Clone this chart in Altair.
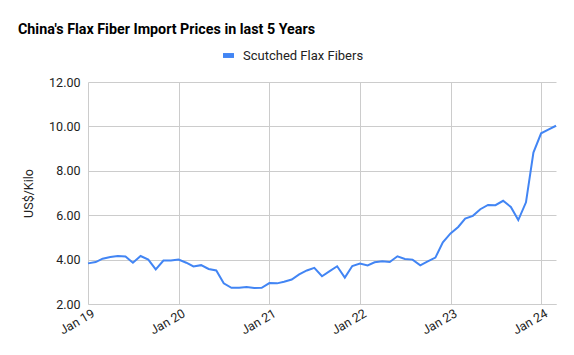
import altair as alt
import pandas as pd

series_name = "Scutched Flax Fibers"
months = [d.strftime("%Y-%m-%d") for d in pd.date_range("2019-01-01", periods=63, freq="MS")]
values = [
    3.83, 3.89, 4.04, 4.12, 4.16, 4.14, 3.86, 4.16, 4.00, 3.56, 3.96, 3.96,
    4.00, 3.86, 3.69, 3.75, 3.58, 3.51, 2.93, 2.73, 2.73, 2.76, 2.72, 2.73,
    2.94, 2.93, 3.00, 3.10, 3.33, 3.51, 3.63, 3.25, 3.48, 3.70, 3.19, 3.71,
    3.82, 3.74, 3.88, 3.92, 3.89, 4.15, 4.03, 4.00, 3.74, 3.92, 4.09, 4.78,
    5.18, 5.47, 5.85, 5.97, 6.27, 6.46, 6.45, 6.65, 6.37, 5.78, 6.58, 8.82,
    9.69, 9.87, 10.03,
]
y_ticks = [2, 4, 6, 8, 10, 12]
x_tick_years = [2019, 2020, 2021, 2022, 2023, 2024]

df = pd.DataFrame({"month": months, "price": values, "series": series_name})

FONT = "Roboto"
x_vals = [alt.DateTime(year=y, month=1, date=1, utc=True) for y in x_tick_years]

chart = (
    alt.Chart(df)
    .mark_line(strokeWidth=2)
    .encode(
        x=alt.X(
            "month:T",
            scale=alt.Scale(
                type="utc",
                domain=[alt.DateTime(year=2019, month=1, date=1, utc=True),
                        alt.DateTime(year=2024, month=3, date=1, utc=True)],
                nice=False,
            ),
            axis=alt.Axis(
                title=None,
                values=x_vals,
                format="%b %y",
                labelAngle=330,
                labelAlign="right",
                labelBaseline="middle",
                labelPadding=8,
                labelOffset=5,
                ticks=False,
                grid=True,
                gridColor="#cccccc",
                domainColor="#cccccc",
                labelFont=FONT,
                labelFontSize=12.5,
                labelColor="#222222",
            ),
        ),
        y=alt.Y(
            "price:Q",
            scale=alt.Scale(domain=[2, 12], nice=False, zero=False),
            axis=alt.Axis(
                title="US$/Kilo",
                values=y_ticks,
                format=".2f",
                ticks=False,
                domain=False,
                grid=True,
                gridColor="#cccccc",
                labelPadding=8,
                labelFont=FONT,
                labelFontSize=12.5,
                labelColor="#222222",
                titleFont=FONT,
                titleFontSize=12.5,
                titleFontWeight="normal",
                titleColor="#222222",
                titleX=-60,
                titleY=111,
                titleAlign="center",
                titleBaseline="middle",
                titleAngle=270,
            ),
        ),
        color=alt.Color(
            "series:N",
            scale=alt.Scale(domain=[series_name], range=["#4285F4"]),
            legend=alt.Legend(
                title=None,
                orient="none",
                legendX=134,
                legendY=-33,
                symbolType="M-1,-0.45H1V0.45H-1Z",
                symbolSize=120,
                symbolFillColor="#4285F4",
                symbolStrokeWidth=0,
                labelOffset=8,
                labelFont=FONT,
                labelFontSize=13,
                labelColor="#222222",
            ),
        ),
    )
    .properties(
        width=468,
        height=222,
        title=alt.TitleParams(
            "China's Flax Fiber Import Prices in last 5 Years",
            anchor="start",
            frame="group",
            font=FONT,
            fontSize=14.3,
            fontWeight="bold",
            color="#000000",
            dx=-70,
            offset=12,
        ),
        autosize=alt.AutoSizeParams(type="none"),
        padding={"left": 88, "top": 82, "right": 18, "bottom": 51},
    )
    .configure_view(stroke=None)
)

chart.save("out.html", embed_options={"renderer": "svg", "actions": False})
